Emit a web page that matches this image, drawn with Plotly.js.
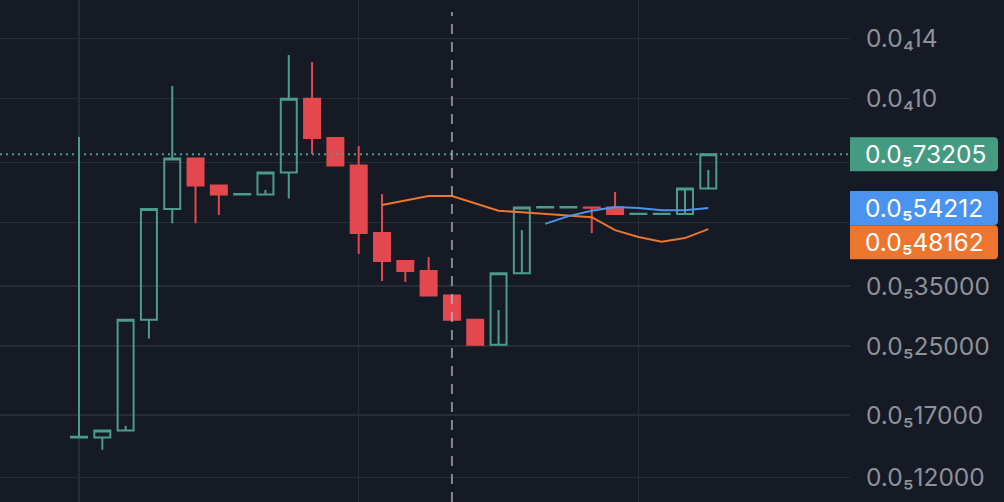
<!DOCTYPE html>
<html>
<head>
<meta charset="utf-8">
<script src="https://cdn.plot.ly/plotly-3.0.1.min.js"></script>
<style>
	html, body { margin: 0; padding: 0; background: #161a25; }
	#chart { width: 1004px; height: 502px; }
</style>
</head>
<body>
<div id="chart"></div>
<script>
'use strict';

// all prices in units of 1e-6 (scaled when plotted)
const bars = [0, 1, 2, 3, 4, 5, 6, 7, 8, 9, 10, 11, 12, 13, 14, 15, 16, 17, 18, 19, 20, 21, 22, 23, 24, 25, 26, 27];
const open  = [1.50, 1.50, 1.56, 2.90, 5.39, 7.15, 6.15, 5.85, 5.85, 6.61, 10.0, 8.02, 6.88, 4.71, 4.03, 3.81, 3.32, 2.90, 2.52, 3.76, 5.44, 5.44, 5.44, 5.44, 5.24, 5.24, 5.24, 6.05];
const high  = [8.07, 1.56, 2.90, 5.39, 10.74, 7.15, 6.15, 5.86, 6.61, 12.77, 12.28, 8.02, 7.67, 5.86, 4.03, 4.12, 3.32, 2.90, 3.76, 5.44, 5.45, 5.45, 5.44, 5.93, 5.25, 5.25, 6.05, 7.3205];
const low   = [1.50, 1.40, 1.56, 2.61, 4.98, 4.98, 5.21, 5.85, 5.85, 5.72, 7.34, 6.88, 4.19, 3.60, 3.58, 3.32, 2.90, 2.52, 2.52, 3.76, 5.44, 5.44, 4.71, 5.24, 5.24, 5.24, 5.24, 6.05];
const close = [1.505, 1.56, 2.90, 5.39, 7.15, 6.15, 5.85, 5.86, 6.61, 10.0, 8.02, 6.88, 4.71, 4.03, 3.81, 3.32, 2.90, 2.52, 3.76, 5.44, 5.45, 5.45, 5.43, 5.24, 5.25, 5.25, 6.05, 7.3205];

// short wick drawn inside some of the hollow bodies
const innerBars = [2, 8, 18, 19, 26, 27];
const innerBottom = [1.56, 5.85, 2.52, 3.76, 5.24, 6.05];
const innerTop = [1.60, 6.00, 3.06, 4.79, 6.05, 6.71];

const orangeBars = [13, 14, 15, 16, 17, 18, 19, 20, 21, 22, 23, 24, 25, 26, 27];
const orangeLine = [5.51, 5.65, 5.80, 5.80, 5.56, 5.34, 5.29, 5.24, 5.21, 5.15, 4.79, 4.61, 4.49, 4.58, 4.8162];
const blueBars = [20, 21, 22, 23, 24, 25, 26, 27];
const blueLine = [4.96, 5.18, 5.34, 5.45, 5.42, 5.35, 5.35, 5.4212];

const tickValues = [14, 10, 7, 5, 3.5, 2.5, 1.7, 1.2];
const tickLabels = ['0.0₄14', '0.0₄10', '', '', '0.0₅35000', '0.0₅25000', '0.0₅17000', '0.0₅12000'];
const gridBars = [0, 12, 24];
const crosshairBar = 16;

const lastPrice = 7.3205;
const priceTags = [
	{ value: 7.3205, text: '0.0₅73205', color: '#459a82', shift: 0 },
	{ value: 5.4212, text: '0.0₅54212', color: '#4a93ef', shift: 0 },
	{ value: 4.8162, text: '0.0₅48162', color: '#ee752e', shift: 13 }
];

const green = '#4c9c8b';
const red = '#e4484f';
const bg = '#161a25';
const grid = '#282c37';

function scaled(list) {
	return list.map(function (v) { return v * 1e-6; });
}

const innerX = [];
const innerY = [];
innerBars.forEach(function (bar, i) {
	innerX.push(bar, bar, null);
	innerY.push(innerBottom[i] * 1e-6, innerTop[i] * 1e-6, null);
});

const traces = [
	{
		type: 'candlestick',
		x: bars,
		open: scaled(open),
		high: scaled(high),
		low: scaled(low),
		close: scaled(close),
		increasing: { line: { color: green, width: 2 }, fillcolor: 'rgba(0,0,0,0)' },
		decreasing: { line: { color: red, width: 2 }, fillcolor: red },
		hoverinfo: 'skip'
	},
	{
		type: 'scatter',
		mode: 'lines',
		x: innerX,
		y: innerY,
		line: { color: green, width: 2 },
		hoverinfo: 'skip'
	},
	{
		type: 'scatter',
		mode: 'lines',
		x: orangeBars,
		y: scaled(orangeLine),
		line: { color: '#ee752e', width: 2, shape: 'linear' },
		hoverinfo: 'skip'
	},
	{
		type: 'scatter',
		mode: 'lines',
		x: blueBars,
		y: scaled(blueLine),
		line: { color: '#4a93ef', width: 2 },
		hoverinfo: 'skip'
	}
];

const shapes = [
	{
		type: 'line', xref: 'paper', yref: 'y', x0: 0, x1: 1,
		y0: lastPrice * 1e-6, y1: lastPrice * 1e-6,
		line: { color: green, width: 2, dash: '2px,4px' }
	},
	{
		type: 'line', xref: 'x', yref: 'paper', x0: crosshairBar, x1: crosshairBar, y0: 0, y1: 0.976,
		line: { color: 'rgba(200,202,208,0.62)', width: 2, dash: '10px,8px' }
	}
];

const annotations = [];
priceTags.forEach(function (tag) {
	// tag box, flat on the left and rounded on the right
	const top = 17 + tag.shift;
	const bottom = -17 + tag.shift;
	shapes.push({
		type: 'path', xref: 'paper', yref: 'y',
		xsizemode: 'pixel', ysizemode: 'pixel',
		xanchor: 1, yanchor: tag.value * 1e-6,
		path: 'M 0 ' + (-bottom) + ' L 144 ' + (-bottom) + ' Q 148 ' + (-bottom) + ' 148 ' + (-bottom - 4) +
			' L 148 ' + (-top + 4) + ' Q 148 ' + (-top) + ' 144 ' + (-top) + ' L 0 ' + (-top) + ' Z',
		fillcolor: tag.color,
		line: { width: 0 }
	});
	annotations.push({
		xref: 'paper', yref: 'y', x: 1, y: Math.log10(tag.value * 1e-6),
		xanchor: 'left', yanchor: 'middle', xshift: 13, yshift: -tag.shift,
		text: tag.text, showarrow: false,
		font: { family: 'Inter', size: 24.5, color: '#ffffff' }
	});
});

const layout = {
	width: 1004,
	height: 502,
	margin: { l: 0, r: 154, t: 0, b: 0 },
	paper_bgcolor: bg,
	plot_bgcolor: bg,
	showlegend: false,
	boxgap: 0.02,
	xaxis: {
		type: 'linear',
		range: [-3.39, 33.08],
		tickmode: 'array',
		tickvals: gridBars,
		showticklabels: false,
		ticks: '',
		showgrid: true,
		gridcolor: grid,
		gridwidth: 1.5,
		zeroline: false,
		rangeslider: { visible: false }
	},
	yaxis: {
		type: 'log',
		side: 'right',
		range: [-5.981, -4.76],
		tickmode: 'array',
		tickvals: scaled(tickValues),
		ticktext: tickLabels,
		ticks: '',
		ticklabelstandoff: 15,
		tickfont: { family: 'Inter', size: 24.5, color: '#8e9198' },
		showgrid: true,
		gridcolor: grid,
		gridwidth: 1.5,
		zeroline: false,
		showline: false
	},
	shapes: shapes,
	annotations: annotations
};

Plotly.newPlot('chart', traces, layout, { displayModeBar: false, staticPlot: true });
</script>
</body>
</html>
